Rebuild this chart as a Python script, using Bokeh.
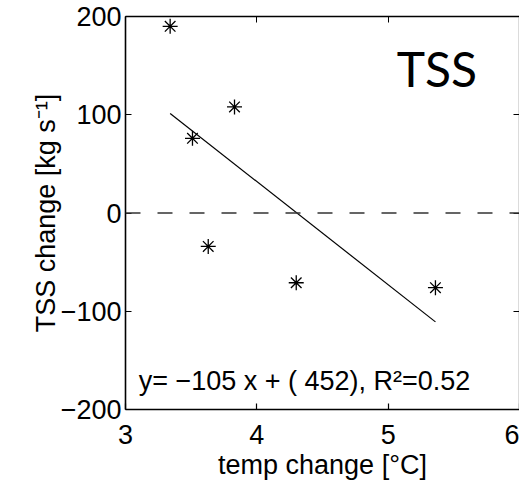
from bokeh.plotting import figure
from bokeh.models import Span, Label, LinearAxis, FixedTicker, Range1d, CustomJSTickFormatter
from bokeh.embed import file_html
from bokeh.resources import INLINE

# data
temp_change = [3.34, 3.51, 3.63, 3.83, 4.30, 5.36]
tss_change = [190, 76, -34, 108, -71, -76]
slope = -105
intercept = 452
r2 = 0.52
x_ticks = [3, 4, 5, 6]
y_ticks = [-200, -100, 0, 100, 200]

FONT = "Liberation Sans"
FS = "27px"

p = figure(width=519, height=485, output_backend="svg", toolbar_location=None,
           x_range=Range1d(3, 6), y_range=Range1d(-200, 200),
           min_border_left=125, min_border_right=0, min_border_top=16, min_border_bottom=76)
p.grid.visible = False
p.outline_line_color = None
p.background_fill_color = "white"

for ax in (p.xaxis[0], p.yaxis[0]):
    ax.major_label_text_font = FONT
    ax.major_label_text_font_size = FS
    ax.axis_label_text_font = FONT
    ax.axis_label_text_font_size = FS
    ax.axis_label_text_font_style = "normal"
    ax.major_tick_in = 6
    ax.major_tick_out = 0
    ax.minor_tick_line_color = None
    ax.axis_line_width = 1.6
    ax.major_tick_line_width = 1.2
    ax.major_label_text_color = "black"
    ax.axis_label_text_color = "black"

p.xaxis[0].ticker = FixedTicker(ticks=x_ticks)
p.yaxis[0].ticker = FixedTicker(ticks=y_ticks)
p.yaxis[0].major_label_overrides = {t: (str(t).replace("-", "\u2212")) for t in y_ticks}
p.xaxis[0].axis_label = "temp change [\u00b0C]"
p.yaxis[0].axis_label = "TSS change [kg s\u207b\u00b9]"
p.xaxis[0].major_label_standoff = 15
p.yaxis[0].major_label_standoff = 4
p.xaxis[0].axis_label_standoff = 3
p.yaxis[0].axis_label_standoff = -3

empty = CustomJSTickFormatter(code="return ''")
top = LinearAxis(ticker=FixedTicker(ticks=x_ticks), formatter=empty, major_tick_in=6, major_tick_out=0,
                 minor_tick_line_color=None, axis_line_width=1.6, major_label_standoff=0,
                 major_label_text_font_size="0px")
right = LinearAxis(ticker=FixedTicker(ticks=y_ticks), formatter=empty, major_tick_in=6, major_tick_out=0,
                   minor_tick_line_color=None, axis_line_width=1.6, axis_line_color="#888888",
                   major_label_standoff=0, major_label_text_font_size="0px")
p.add_layout(top, "above")
p.add_layout(right, "right")

p.add_layout(Span(location=0, dimension="width", line_color="#333333", line_width=1.6, line_dash="15 17"))

fit_x = [min(temp_change), max(temp_change)]
fit_y = [slope * v + intercept for v in fit_x]
p.line(fit_x, fit_y, line_color="black", line_width=1.2)

p.scatter(temp_change, tss_change, marker="asterisk", size=15, line_color="black", line_width=1.3)

p.add_layout(Label(x=5.066, y=147, text="TSS", text_font="Lato", text_font_size="48px",
                   text_baseline="alphabetic", text_color="black"))
eq = "y= \u2212%d x + ( %d), R\u00b2=%.2f" % (abs(slope), intercept, r2)
p.add_layout(Label(x=3.10, y=-171, text=eq, text_font=FONT, text_font_size=FS,
                   text_baseline="alphabetic", text_color="black"))

open("out.html", "w").write(file_html(p, INLINE))
